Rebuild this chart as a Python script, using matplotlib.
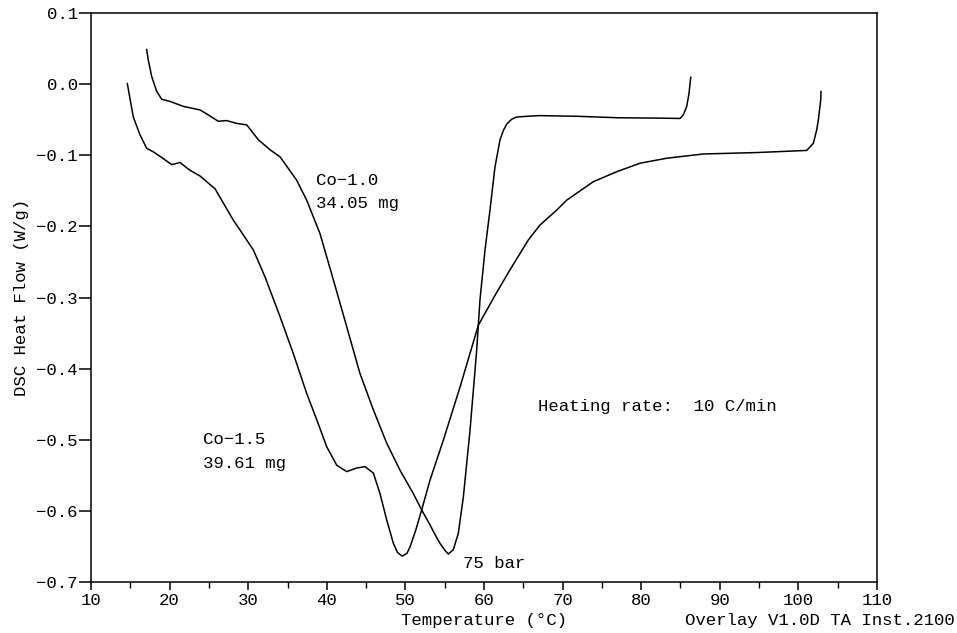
import matplotlib
matplotlib.use("Agg")
import matplotlib.pyplot as plt
from matplotlib.ticker import MultipleLocator

# Co-1.0, 34.05 mg
co10_temp = [17.08, 17.29, 17.72, 18.36, 19.0, 20.05, 21.74, 23.87, 24.92, 26.2, 27.26,
             28.54, 29.81, 31.29, 32.77, 34.05, 36.17, 37.44, 39.13, 40.83, 42.53, 44.22,
             45.92, 47.62, 49.31, 51.01, 52.07, 53.13, 53.98, 54.40, 55.04, 55.46, 56.09,
             56.73, 57.37, 58.22, 59.07, 59.49, 60.13, 60.76, 61.40, 62.04, 62.46, 62.89,
             63.53, 64.16, 65.43, 67.12, 72.0, 77.0, 82.0, 84.94, 85.36, 85.79, 86.08, 86.3]
co10_flow = [0.049, 0.034, 0.011, -0.010, -0.021, -0.024, -0.031, -0.036, -0.043, -0.052, -0.051,
             -0.055, -0.057, -0.078, -0.092, -0.102, -0.135, -0.163, -0.210, -0.275, -0.341, -0.407,
             -0.458, -0.505, -0.543, -0.576, -0.599, -0.620, -0.638, -0.646, -0.656, -0.661, -0.655,
             -0.632, -0.581, -0.487, -0.374, -0.303, -0.233, -0.177, -0.116, -0.078, -0.065, -0.056,
             -0.049, -0.046, -0.045, -0.044, -0.045, -0.047, -0.0475, -0.048, -0.043, -0.031, -0.013, 0.010]

# Co-1.5, 39.61 mg
co15_temp = [14.62, 15.38, 16.23, 17.08, 17.93, 19.0, 20.27, 21.32, 22.6, 23.87, 25.78,
             28.10, 28.96, 30.65, 32.14, 34.05, 35.74, 37.44, 38.72, 39.99, 41.26, 42.53,
             43.80, 44.86, 45.92, 46.77, 47.62, 48.47, 49.0, 49.61, 50.2, 50.59, 51.3,
             52.07, 53.13, 54.82, 56.95, 59.28, 61.40, 63.31, 65.64, 67.12, 69.25, 70.52,
             73.91, 76.88, 79.85, 83.24, 87.9, 94.69, 101.06, 101.9, 102.33, 102.54, 102.84, 102.88]
co15_flow = [0.001, -0.046, -0.071, -0.090, -0.095, -0.103, -0.113, -0.110, -0.121, -0.129, -0.147,
             -0.191, -0.205, -0.233, -0.271, -0.327, -0.379, -0.435, -0.472, -0.510, -0.536, -0.545,
             -0.540, -0.538, -0.547, -0.576, -0.613, -0.646, -0.659, -0.664, -0.660, -0.651, -0.628,
             -0.599, -0.557, -0.501, -0.426, -0.339, -0.297, -0.261, -0.219, -0.198, -0.177, -0.163,
             -0.137, -0.123, -0.111, -0.104, -0.098, -0.096, -0.093, -0.083, -0.064, -0.050, -0.022, -0.010]

x_ticks = [10, 20, 30, 40, 50, 60, 70, 80, 90, 100, 110]
y_ticks = [-0.7, -0.6, -0.5, -0.4, -0.3, -0.2, -0.1, 0.0, 0.1]
y_tick_labels = ["\u22120.7", "\u22120.6", "\u22120.5", "\u22120.4", "\u22120.3",
                 "\u22120.2", "\u22120.1", "0.0", "0.1"]

plt.rcParams["font.family"] = ["Liberation Mono", "DejaVu Sans Mono", "DejaVu Sans"]

fig = plt.figure(figsize=(9.57, 6.33), dpi=100)
ax = fig.add_axes([0.0951, 0.081, 0.8213, 0.898])

ax.plot(co10_temp, co10_flow, color="black", lw=1.1, solid_joinstyle="round")
ax.plot(co15_temp, co15_flow, color="black", lw=1.1, solid_joinstyle="round")

ax.set_xlim(10, 110)
ax.set_ylim(-0.7, 0.1)
ax.set_xticks(x_ticks)
ax.set_yticks(y_ticks)
ax.set_yticklabels(y_tick_labels)
ax.xaxis.set_minor_locator(MultipleLocator(5))
fs = 12.5
ax.tick_params(axis="y", which="major", direction="out", length=8.5, width=1.1, labelsize=fs, pad=1)
ax.tick_params(axis="x", which="major", direction="out", length=6, width=1.1, labelsize=fs, pad=2)
ax.tick_params(axis="x", which="minor", direction="out", length=4, width=1.0)
for s in ax.spines.values():
    s.set_linewidth(1.1)

ax.set_xlabel("Temperature (°C)", fontsize=fs)
ax.xaxis.label.set_va("center")
ax.xaxis.set_label_coords(0.5, -0.0674)
ax.set_ylabel("DSC Heat Flow (W/g)", fontsize=fs)
ax.yaxis.label.set_va("center")
ax.yaxis.set_label_coords(-0.088, 0.5)

ax.text(38.63, -0.136, "Co\u22121.0", fontsize=fs, va="center", ha="left")
ax.text(38.63, -0.167, "34.05 mg", fontsize=fs, va="center", ha="left")
ax.text(24.25, -0.5005, "Co\u22121.5", fontsize=fs, va="center", ha="left")
ax.text(24.25, -0.533, "39.61 mg", fontsize=fs, va="center", ha="left")
ax.text(57.33, -0.675, "75 bar", fontsize=fs, va="center", ha="left")
ax.text(66.87, -0.454, "Heating rate:  10 C/min", fontsize=fs, va="center", ha="left")

fig.text(0.998, 1 - 620 / 633, "Overlay V1.0D TA Inst.2100", fontsize=fs, ha="right", va="center")

fig.savefig("out.png", dpi=100)
